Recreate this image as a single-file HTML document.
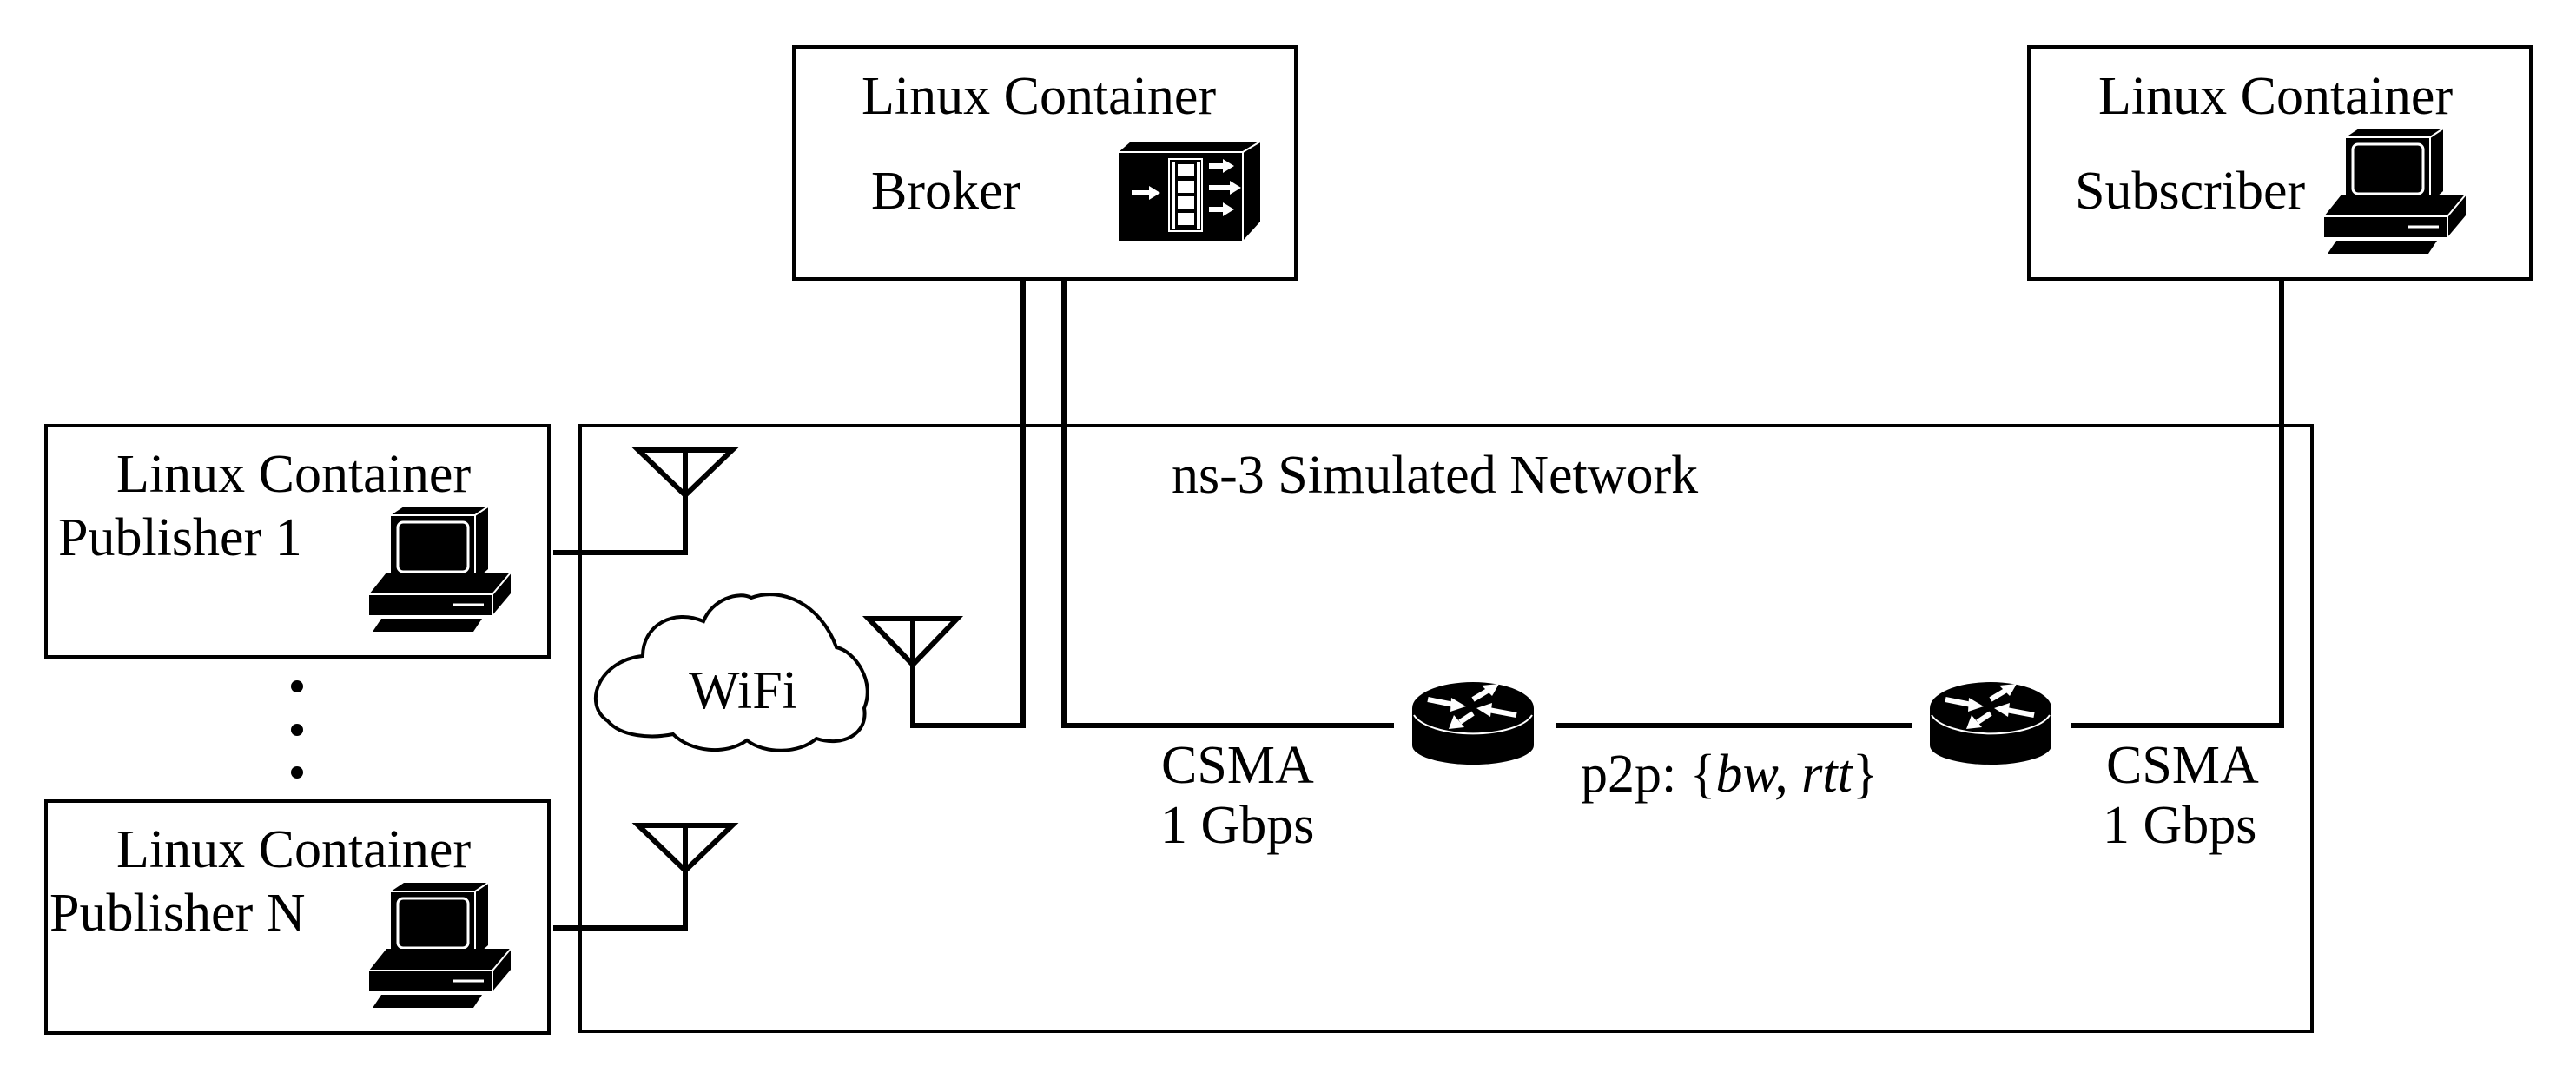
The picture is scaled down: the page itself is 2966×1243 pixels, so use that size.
<!DOCTYPE html>
<html><head><meta charset="utf-8"><style>
html,body{margin:0;padding:0;background:#fff;}
svg text{font-family:"Liberation Serif",serif;font-size:62px;fill:#000;}
</style></head><body>
<svg width="2966" height="1238" viewBox="0 0 2966 1238" xmlns="http://www.w3.org/2000/svg">
<defs>
<g id="pc">
  <polygon points="25,10 40,0 137,0 137,72 122,85 25,85" fill="#000"/>
  <polyline points="25,10 122,10 137,0 M122,10" fill="none" stroke="#fff" stroke-width="2"/>
  <line x1="122" y1="10" x2="122" y2="85" stroke="#fff" stroke-width="2"/>
  <rect x="33" y="18" width="81" height="57" rx="6" fill="#000" stroke="#fff" stroke-width="3"/>
  <polygon points="0,101 20,76 163,76 163,100 142,125 0,125" fill="#000"/>
  <polyline points="0,101 142,101 163,76" fill="none" stroke="#fff" stroke-width="2"/>
  <line x1="142" y1="101" x2="142" y2="125" stroke="#fff" stroke-width="2"/>
  <line x1="97" y1="113" x2="132" y2="113" stroke="#fff" stroke-width="3"/>
  <polygon points="4,144 14,129 130,129 120,144" fill="#000"/>
</g>
<g id="router">
  <path d="M0,32 L0,75 A70,22 0 0 0 140,75 L140,32 Z" fill="#000"/>
  <ellipse cx="70" cy="32" rx="70" ry="30" fill="#000"/>
  <path d="M2,40 A70,28 0 0 0 138,40" fill="none" stroke="#fff" stroke-width="2"/>
  <g stroke="#fff" stroke-width="6" fill="#fff">
    <line x1="18" y1="22" x2="48" y2="28"/><polygon points="45,20 62,30 44,36" stroke="none"/>
    <line x1="88" y1="34" x2="120" y2="40"/><polygon points="92,26 74,32 90,42" stroke="none"/>
    <line x1="70" y1="22" x2="90" y2="10"/><polygon points="80,6 100,4 92,18" stroke="none"/>
    <line x1="70" y1="38" x2="55" y2="48"/><polygon points="48,40 42,56 60,54" stroke="none"/>
  </g>
</g>
</defs>

<g fill="none" stroke="#000" stroke-width="4">
  <rect x="914" y="54" width="578" height="267"/>
  <rect x="2336" y="54" width="578" height="267"/>
  <rect x="53" y="490" width="579" height="266"/>
  <rect x="53" y="922" width="579" height="267"/>
  <rect x="668" y="490" width="1994" height="697"/>
</g>

<g fill="none" stroke="#000" stroke-width="6">
  <polyline points="1178,321 1178,835 1051,835 1051,712"/>
  <polygon points="1000,712 1102,712 1051,765"/>
  <polyline points="1225,321 1225,835 1605,835"/>
  <line x1="1791" y1="835" x2="2201" y2="835"/>
  <polyline points="2385,835 2627,835 2627,321"/>
  <polyline points="637,636 789,636 789,518"/>
  <polygon points="735,518 843,518 789,570"/>
  <polyline points="637,1068 789,1068 789,950"/>
  <polygon points="735,950 843,950 789,1002"/>
</g>

<path d="M700,830 C670,810 690,760 740,755 C740,720 775,700 810,715 C820,690 850,680 865,688 C900,675 945,695 963,745 C985,750 1008,785 995,815 C1000,845 970,860 940,850 C920,868 880,868 860,852 C835,870 795,865 775,845 C750,850 715,848 700,830 Z" fill="#fff" stroke="#000" stroke-width="4"/>

<circle cx="342" cy="790" r="7" fill="#000"/>
<circle cx="342" cy="840" r="7" fill="#000"/>
<circle cx="342" cy="889" r="7" fill="#000"/>

<use href="#pc" x="425" y="583"/>
<use href="#pc" x="425" y="1016"/>
<use href="#pc" x="2676" y="148"/>
<use href="#router" x="1626" y="783"/>
<use href="#router" x="2222" y="783"/>

<g transform="translate(1288,163)">
  <polygon points="0,12 14,0 163,0 163,92 143,114 0,114" fill="#000"/>
  <polyline points="0,12 143,12 163,0" fill="none" stroke="#fff" stroke-width="2"/>
  <line x1="143" y1="12" x2="143" y2="114" stroke="#fff" stroke-width="2"/>
  <rect x="58" y="20" width="38" height="83" fill="none" stroke="#fff" stroke-width="2"/>
  <g fill="#fff">
    <rect x="68" y="26" width="19" height="14"/><rect x="68" y="45" width="19" height="14"/>
    <rect x="68" y="63" width="19" height="14"/><rect x="68" y="82" width="19" height="14"/>
    <rect x="61" y="24" width="4" height="76"/><rect x="90" y="24" width="4" height="76"/>
    <polygon points="15,56 35,56 35,51 48,59 35,67 35,62 15,62"/>
    <polygon points="104,25 120,25 120,20 133,28 120,36 120,31 104,31"/>
    <polygon points="104,50 128,50 128,45 141,53 128,61 128,56 104,56"/>
    <polygon points="104,75 120,75 120,70 133,78 120,86 120,81 104,81"/>
  </g>
</g>

<text x="992" y="131">Linux Container</text>
<text x="1003" y="240">Broker</text>
<text x="2416" y="131">Linux Container</text>
<text x="2389" y="240">Subscriber</text>
<text x="134" y="566">Linux Container</text>
<text x="67" y="639">Publisher 1</text>
<text x="134" y="998">Linux Container</text>
<text x="57" y="1071">Publisher N</text>
<text x="1349" y="567">ns-3 Simulated Network</text>
<text x="793" y="815">WiFi</text>
<text x="1337" y="901">CSMA</text>
<text x="1336" y="970">1 Gbps</text>
<text x="2425" y="901">CSMA</text>
<text x="2421" y="970">1 Gbps</text>
<text x="1820" y="911">p2p: {<tspan font-style="italic">bw, rtt</tspan>}</text>
</svg>
</body></html>
